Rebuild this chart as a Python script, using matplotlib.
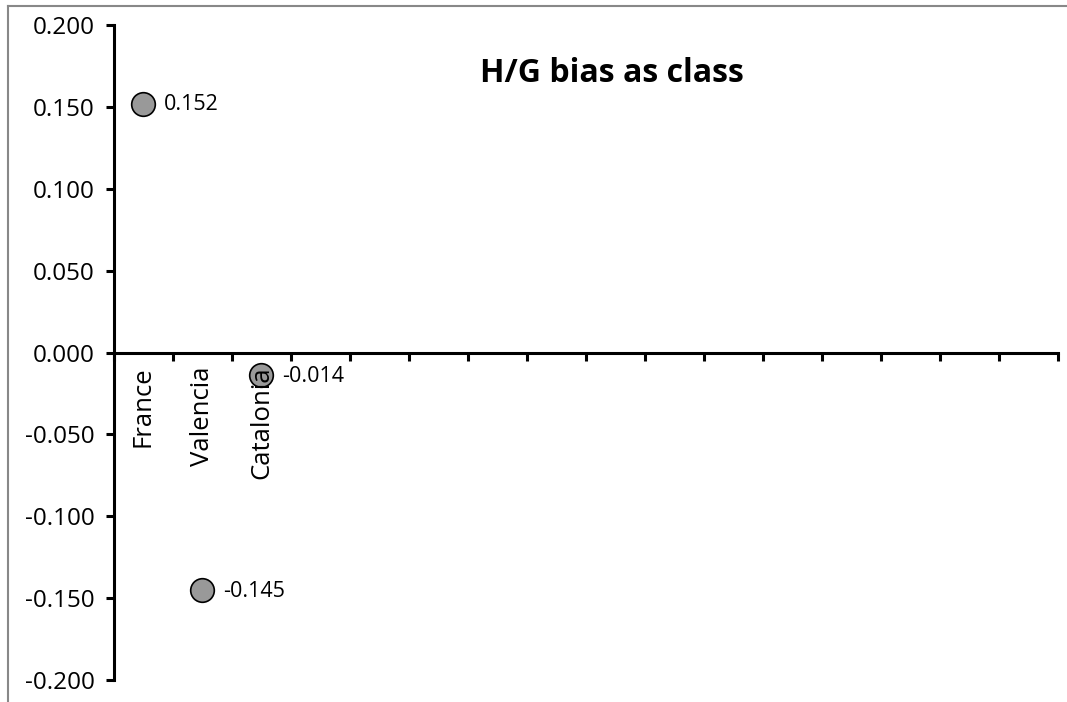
"""H/G bias as class: Excel-style category dot chart."""

import matplotlib

matplotlib.use("Agg")
import matplotlib.pyplot as plt
from matplotlib.lines import Line2D

plt.rcParams["font.family"] = ["Open Sans", "DejaVu Sans"]

# 16 category slots on the axis, only the first three are used
n_slots = 16
categories = ["France", "Valencia", "Catalonia"]
values = [0.152, -0.145, -0.014]
value_labels = ["0.152", "-0.145", "-0.014"]
y_ticks = [-0.2, -0.15, -0.1, -0.05, 0.0, 0.05, 0.1, 0.15, 0.2]

fig = plt.figure(figsize=(10.67, 7.02), dpi=100)
ax = fig.add_axes([0.1068, 0.0313, 0.8848, 0.9331])

x = list(range(len(categories)))
ax.plot(x, values, ls="none", marker="o", ms=17, mfc="#999999",
        mec="#000000", mew=1.2, zorder=3, clip_on=False)
for xi, yi, lab in zip(x, values, value_labels):
    ax.annotate(lab, (xi, yi), xytext=(15, -1), textcoords="offset points",
                ha="left", va="center", fontsize=15.5)

ax.set_xlim(-0.5, n_slots - 0.5)
ax.set_ylim(-0.2, 0.2)
ax.set_yticks(y_ticks)
ax.set_yticklabels([f"{t:.3f}" for t in y_ticks], fontsize=17.5)

# x axis sits at zero, ticks between categories
for s in ("top", "right"):
    ax.spines[s].set_visible(False)
ax.spines["bottom"].set_position(("data", 0))
ax.spines["left"].set_linewidth(2.2)
ax.spines["bottom"].set_linewidth(2.2)
ax.set_xticks([i - 0.5 for i in range(n_slots + 1)])
ax.set_xticklabels([])
ax.tick_params(axis="x", direction="out", length=6, width=2.2)
ax.tick_params(axis="y", direction="out", length=6, width=2.2, pad=8)
for xi, cat in zip(x, categories):
    ax.text(xi, -0.0085, cat, rotation=90, ha="center", va="top",
            fontsize=18.5)

ax.text(0.5275, 0.926, "H/G bias as class", transform=ax.transAxes,
        ha="center", va="center", fontsize=23, fontweight="bold")

# chart-area border (top and left visible in the reference)
fig.add_artist(Line2D([8 / 1067, 8 / 1067], [0, 1 - 6 / 702],
                      transform=fig.transFigure, color="#888888", lw=1.5))
fig.add_artist(Line2D([8 / 1067, 1], [1 - 6 / 702, 1 - 6 / 702],
                      transform=fig.transFigure, color="#888888", lw=1.5))

fig.savefig("out.png", dpi=100)
